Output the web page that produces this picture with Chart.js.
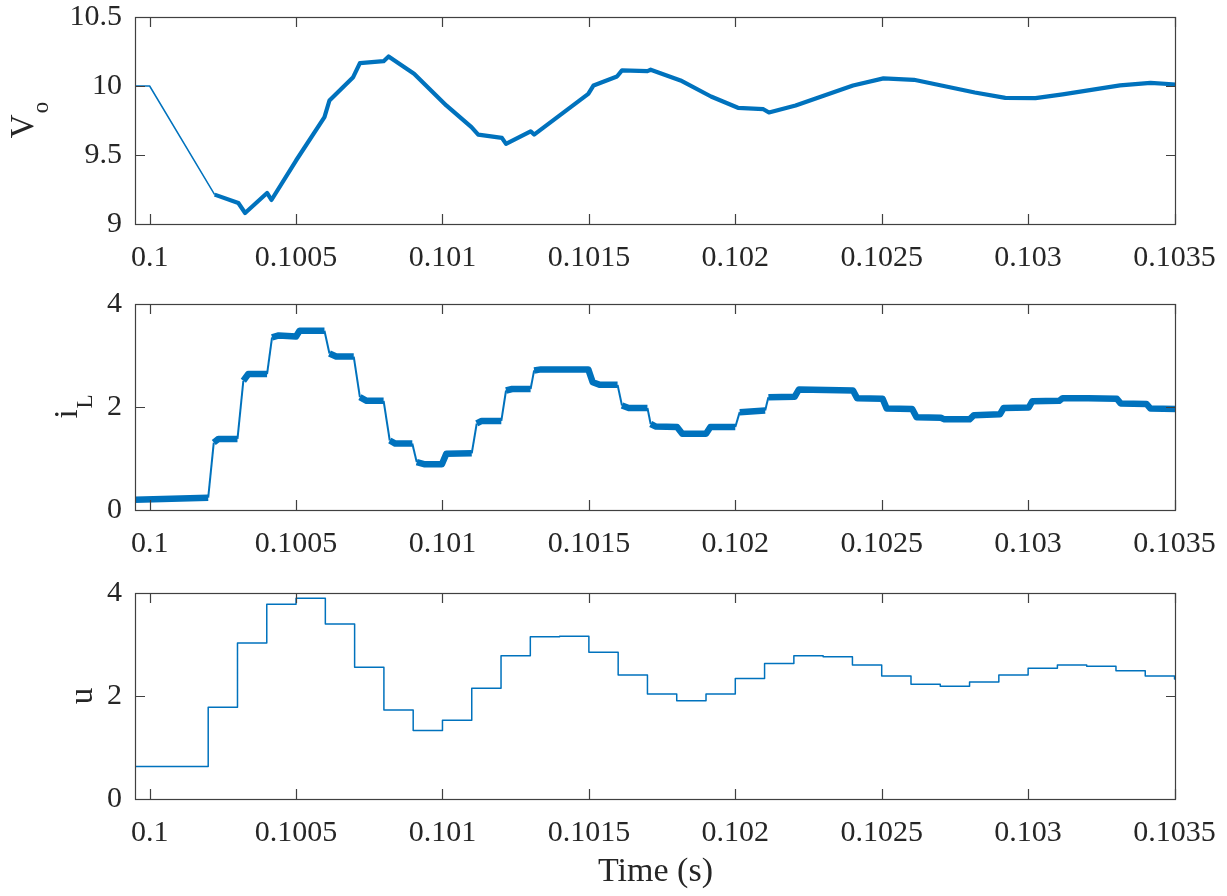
<!DOCTYPE html>
<html>
<head>
<meta charset="utf-8">
<script src="https://cdn.jsdelivr.net/npm/chart.js@4.4.1/dist/chart.umd.min.js"></script>
<style>
  html, body { margin: 0; padding: 0; background: #fff; }
  body { width: 1227px; height: 896px; position: relative; overflow: hidden; }
  canvas { position: absolute; left: 0; }
</style>
</head>
<body>
<canvas id="vo" width="1227" height="280" style="top:0px"></canvas>
<canvas id="il" width="1227" height="290" style="top:280px"></canvas>
<canvas id="u" width="1227" height="326" style="top:570px"></canvas>
<script>
// time axis
const xMin = 0.09995;
const xMax = 0.103505;
const xTicks = [0.1, 0.1005, 0.101, 0.1015, 0.102, 0.1025, 0.103, 0.1035];

// output voltage V_o
const voTime = [0.09995, 0.1, 0.100222, 0.100303, 0.100326, 0.100401, 0.100416, 0.1005, 0.100597, 0.100614,
  0.100695, 0.100718, 0.100799, 0.100816, 0.100903, 0.101013, 0.101099, 0.101122, 0.101203, 0.101217,
  0.101301, 0.101313, 0.101498, 0.101516, 0.101596, 0.101613, 0.1017, 0.101711, 0.101813, 0.101917,
  0.102009, 0.102096, 0.102115, 0.102206, 0.102402, 0.102506, 0.10261, 0.102818, 0.102922, 0.103025,
  0.103118, 0.103314, 0.103418, 0.103505];
const voVal = [10.0, 10.0, 9.213, 9.152, 9.08, 9.225, 9.174, 9.46, 9.774, 9.895,
  10.064, 10.166, 10.18, 10.214, 10.089, 9.859, 9.702, 9.648, 9.624, 9.581,
  9.672, 9.648, 9.943, 10.004, 10.069, 10.113, 10.108, 10.118, 10.04, 9.924,
  9.842, 9.832, 9.808, 9.859, 10.004, 10.055, 10.045, 9.953, 9.914, 9.912,
  9.939, 10.004, 10.023, 10.011];
const voTicks = [9, 9.5, 10, 10.5];

// inductor current i_L
const ilTime = [0.09995, 0.1002, 0.100219, 0.100235, 0.1003, 0.10032, 0.100337, 0.100401, 0.100418, 0.100441,
  0.1005, 0.100512, 0.100597, 0.100614, 0.100637, 0.100697, 0.100718, 0.100741, 0.100799, 0.10082,
  0.100839, 0.100897, 0.100912, 0.100937, 0.100998, 0.101013, 0.1011, 0.101117, 0.101134, 0.101201,
  0.101217, 0.101238, 0.101301, 0.101313, 0.101336, 0.101498, 0.101513, 0.101538, 0.101598, 0.101613,
  0.101636, 0.1017, 0.101711, 0.101729, 0.101801, 0.101819, 0.1019, 0.101915, 0.102, 0.102015,
  0.102102, 0.102113, 0.102203, 0.102217, 0.10231, 0.102402, 0.102416, 0.102503, 0.102517, 0.102604,
  0.102619, 0.102702, 0.102714, 0.1028, 0.102815, 0.102904, 0.102916, 0.103002, 0.103014, 0.103106,
  0.103118, 0.103205, 0.103303, 0.103316, 0.103404, 0.103418, 0.103505];
const ilVal = [0.20, 0.24, 1.31, 1.38, 1.38, 2.51, 2.64, 2.64, 3.35, 3.39,
  3.37, 3.48, 3.48, 3.04, 2.98, 2.98, 2.19, 2.12, 2.12, 1.35,
  1.29, 1.29, 0.93, 0.89, 0.89, 1.09, 1.10, 1.68, 1.73, 1.73,
  2.32, 2.35, 2.35, 2.71, 2.73, 2.73, 2.48, 2.43, 2.43, 2.03,
  1.98, 1.98, 1.67, 1.62, 1.61, 1.48, 1.48, 1.61, 1.61, 1.90,
  1.93, 2.19, 2.20, 2.34, 2.33, 2.32, 2.17, 2.16, 1.97, 1.96,
  1.80, 1.79, 1.76, 1.76, 1.84, 1.86, 1.98, 1.99, 2.11, 2.12,
  2.17, 2.17, 2.16, 2.07, 2.06, 1.97, 1.96];
const ilTicks = [0, 2, 4];

// control signal u (held between samples)
const uTime = [0.09995, 0.1002, 0.1003, 0.1004, 0.1005, 0.1006, 0.1007, 0.1008, 0.1009, 0.101,
  0.1011, 0.1012, 0.1013, 0.1014, 0.1015, 0.1016, 0.1017, 0.1018, 0.1019, 0.102,
  0.1021, 0.1022, 0.1023, 0.1024, 0.1025, 0.1026, 0.1027, 0.1028, 0.1029, 0.103,
  0.1031, 0.1032, 0.1033, 0.1034, 0.1035, 0.103505];
const uVal = [0.63, 1.78, 3.03, 3.78, 3.90, 3.40, 2.56, 1.73, 1.33, 1.53,
  2.15, 2.78, 3.15, 3.16, 2.85, 2.41, 2.04, 1.91, 2.04, 2.34,
  2.63, 2.78, 2.76, 2.60, 2.39, 2.23, 2.19, 2.27, 2.41, 2.54,
  2.60, 2.58, 2.49, 2.39, 2.33, 2.33];
const uTicks = [0, 2, 4];

const lineColor = '#0072BD';
const axisColor = '#404040';
const textColor = '#262626';
const serif = '"Liberation Serif", "Times New Roman", Times, serif';

Chart.defaults.font.family = serif;
Chart.defaults.color = textColor;

function points(xs, ys){
    let out = [];
    for(let i = 0; i < xs.length; i++) out.push({x: xs[i], y: ys[i]});
    return out;
}

// box, inward ticks and the y label (with subscript)
const matlabAxes = {
    id: 'matlabAxes',
    afterDraw(chart, args, opts){
        let ctx = chart.ctx;
        let a = chart.chartArea;
        let sx = chart.scales.x, sy = chart.scales.y;
        ctx.save();
        ctx.strokeStyle = axisColor;
        ctx.lineWidth = 1.2;
        ctx.strokeRect(a.left + 0.5, a.top + 0.5, a.right - a.left - 1, a.bottom - a.top);
        ctx.beginPath();
        sx.ticks.forEach(t => {
            let px = Math.round(sx.getPixelForValue(t.value)) + 0.5;
            ctx.moveTo(px, a.bottom); ctx.lineTo(px, a.bottom - 10);
            ctx.moveTo(px, a.top); ctx.lineTo(px, a.top + 10);
        });
        sy.ticks.forEach(t => {
            let py = Math.round(sy.getPixelForValue(t.value)) + 0.5;
            ctx.moveTo(a.left, py); ctx.lineTo(a.left + 10, py);
            ctx.moveTo(a.right, py); ctx.lineTo(a.right - 10, py);
        });
        ctx.stroke();

        ctx.fillStyle = textColor;
        ctx.translate(opts.x, (a.top + a.bottom) / 2);
        ctx.rotate(-Math.PI / 2);
        ctx.textBaseline = 'alphabetic';
        ctx.textAlign = 'left';
        ctx.font = '33px ' + serif;
        let w1 = ctx.measureText(opts.main).width;
        let w2 = 0;
        if(opts.sub){
            ctx.font = '23px ' + serif;
            w2 = ctx.measureText(opts.sub).width;
        }
        let start = -(w1 + w2) / 2;
        ctx.font = '33px ' + serif;
        ctx.fillText(opts.main, start, 0);
        if(opts.sub){
            ctx.font = '23px ' + serif;
            ctx.fillText(opts.sub, start + w1 + 1, 15);
        }
        ctx.restore();
    }
};

function genChart(id, data, yMin, yMax, yTicks, label, extra){
    let canvas = document.getElementById(id);
    let ds = Object.assign({
        data: data,
        borderColor: lineColor,
        backgroundColor: lineColor,
        borderWidth: 1.5,
        pointRadius: 0,
        fill: false,
        tension: 0,
        borderJoinStyle: 'round'
    }, extra.dataset);

    let tickFont = { family: serif, size: 30, lineHeight: 1 };

    let parameters = {
        type: 'line',
        data: { datasets: [ds] },
        options: {
            responsive: false,
            animation: false,
            layout: { padding: { top: extra.top, right: 51, bottom: 0, left: 0 } },
            plugins: {
                legend: { display: false },
                tooltip: { enabled: false },
                matlabAxes: label
            },
            scales: {
                x: {
                    type: 'linear',
                    min: xMin,
                    max: xMax,
                    grid: { display: false, drawTicks: false },
                    border: { display: false },
                    afterBuildTicks: s => { s.ticks = xTicks.map(v => ({value: v})); },
                    afterFit: s => { s.height = extra.xHeight; s.paddingLeft = 0; s.paddingRight = 0; },
                    ticks: {
                        autoSkip: false,
                        maxRotation: 0,
                        padding: 19,
                        color: textColor,
                        font: tickFont,
                        callback: v => String(v)
                    },
                    title: extra.xTitle || { display: false }
                },
                y: {
                    type: 'linear',
                    min: yMin,
                    max: yMax,
                    grid: { display: false, drawTicks: false },
                    border: { display: false },
                    afterBuildTicks: s => { s.ticks = yTicks.map(v => ({value: v})); },
                    afterFit: s => { s.width = 135; s.paddingTop = 0; s.paddingBottom = 0; },
                    ticks: {
                        padding: 13,
                        color: textColor,
                        font: tickFont,
                        callback: v => String(v)
                    }
                }
            }
        },
        plugins: [matlabAxes]
    };
    return new Chart(canvas.getContext('2d'), parameters);
}

genChart('vo', points(voTime, voVal), 9, 10.5, voTicks,
    { main: 'V', sub: 'o', x: 33 },
    { top: 17, xHeight: 56,
      dataset: { segment: { borderWidth: c => c.p0.parsed.x < 0.10022 ? 1.5 : 4.2 } } });

genChart('il', points(ilTime, ilVal), 0, 4, ilTicks,
    { main: 'i', sub: 'L', x: 77 },
    { top: 24, xHeight: 60,
      dataset: { borderCapStyle: 'butt', borderJoinStyle: 'round',
                 segment: { borderWidth: c => Math.abs(c.p1.y - c.p0.y) > 3 * Math.abs(c.p1.x - c.p0.x) ? 2 : 6.5 } } });

genChart('u', points(uTime, uVal), 0, 4, uTicks,
    { main: 'u', x: 92 },
    { top: 23, xHeight: 97,
      dataset: { stepped: 'before', borderWidth: 1.5 },
      xTitle: { display: true, text: 'Time (s)', color: textColor,
                font: { family: serif, size: 34 }, padding: { top: 0, bottom: 4 } } });
</script>
</body>
</html>
